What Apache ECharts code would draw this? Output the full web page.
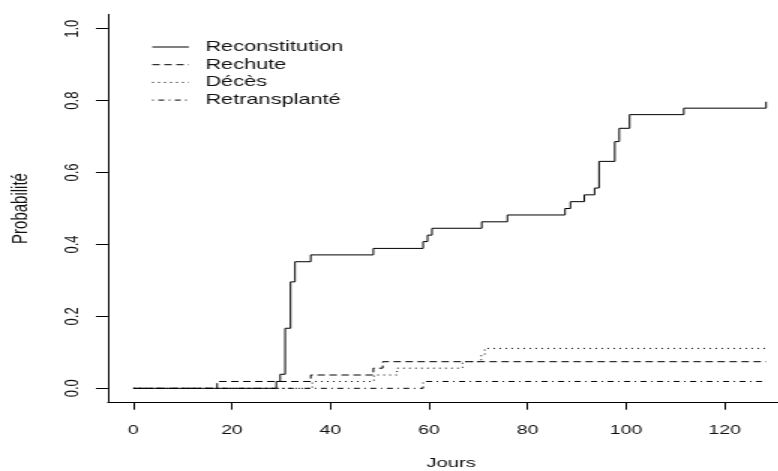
<!DOCTYPE html>
<html>
<head>
<meta charset="utf-8">
<script src="https://cdn.jsdelivr.net/npm/echarts@6/dist/echarts.min.js"></script>
<style>
  html, body { margin: 0; padding: 0; background: #fff; overflow: hidden; }
  /* la figure d'origine est étirée horizontalement (~1.5x) */
  #main { width: 518.67px; height: 471px; transform: scaleX(1.5); transform-origin: 0 0; }
</style>
</head>
<body>
<div id="main"></div>
<script>
// temps (jours) et probabilités cumulées
var reconT = [0, 29, 29.8, 30.8, 31.9, 32.8, 36, 48.7, 58.8, 59.7, 60.6, 70.7, 75.9, 87.6, 88.7, 91.5, 93.6, 94.5, 97.7, 98.6, 100.7, 111.7, 128.4];
var reconP = [0, 0.019, 0.039, 0.167, 0.296, 0.352, 0.371, 0.389, 0.408, 0.426, 0.445, 0.463, 0.482, 0.5, 0.519, 0.538, 0.557, 0.631, 0.686, 0.723, 0.761, 0.779, 0.797];

var rechuteT = [0, 17, 36, 48.7, 50.6, 128.4];
var rechuteP = [0, 0.019, 0.037, 0.056, 0.074, 0.074];

var decesT = [0, 36.3, 48.8, 53.5, 66.8, 70.6, 71.3, 128.4];
var decesP = [0, 0.019, 0.037, 0.056, 0.074, 0.093, 0.111, 0.111];

var retransT = [0, 58.8, 128.4];
var retransP = [0, 0.019, 0.019];

var xTicks = [0, 20, 40, 60, 80, 100, 120];
var yTicks = [0, 0.2, 0.4, 0.6, 0.8, 1.0];

var names = ['Reconstitution', 'Rechute', 'Décès', 'Retransplanté'];

var chart = echarts.init(document.getElementById('main'));
var font = 'Liberation Sans, Arial, sans-serif';

function pts(t, p) {
  return t.map(function (v, i) { return [v, p[i]]; });
}
function courbe(name, t, p, dash) {
  return {
    name: name,
    type: 'line',
    step: 'end',
    symbol: 'none',
    silent: true,
    color: '#000',
    lineStyle: { color: '#000', width: 1, type: dash },
    data: pts(t, p)
  };
}

var option = {
  animation: false,
  // la zone de tracé déborde à droite comme dans l'original
  grid: { left: 71.95, top: 14.3, width: 457.7, height: 388.4, outerBoundsMode: 'none' },
  legend: {
    orient: 'vertical',
    left: 101,
    top: 39.5,
    padding: 0,
    itemWidth: 24.4,
    itemHeight: 14,
    itemGap: 2.7,
    selectedMode: false,
    data: names,
    itemStyle: { opacity: 0 },
    lineStyle: { width: 1 },
    textStyle: { fontFamily: font, fontSize: 14.5, color: '#111', padding: [0, 0, 0, 6] }
  },
  xAxis: {
    type: 'value',
    min: -5.16,
    max: 134.16,
    name: 'Jours',
    nameLocation: 'middle',
    nameGap: 54,
    nameTextStyle: { fontFamily: font, fontSize: 13.5, color: '#111' },
    splitLine: { show: false },
    axisLine: { onZero: false, lineStyle: { color: '#000', width: 1 } },
    axisTick: { length: 7, customValues: xTicks, lineStyle: { color: '#000' } },
    axisLabel: { customValues: xTicks, margin: 21, fontFamily: font, fontSize: 13, color: '#111' }
  },
  yAxis: {
    type: 'value',
    min: -0.04,
    max: 1.04,
    name: 'Probabilité',
    nameLocation: 'middle',
    nameRotate: 90,
    nameGap: 51,
    nameTextStyle: { fontFamily: font, fontSize: 15, color: '#111' },
    splitLine: { show: false },
    axisLine: { show: true, onZero: false, lineStyle: { color: '#000', width: 1 } },
    axisTick: { show: true, length: 8, customValues: yTicks, lineStyle: { color: '#000' } },
    axisLabel: {
      customValues: yTicks, rotate: 90, margin: 17,
      fontFamily: font, fontSize: 13, color: '#111',
      formatter: function (v) { return v.toFixed(1); }
    }
  },
  series: [
    courbe(names[0], reconT, reconP, 'solid'),
    courbe(names[1], rechuteT, rechuteP, [5, 3]),
    courbe(names[2], decesT, decesP, [1, 3]),
    courbe(names[3], retransT, retransP, [1, 3, 4, 3])
  ]
};
chart.setOption(option);
</script>
</body>
</html>
